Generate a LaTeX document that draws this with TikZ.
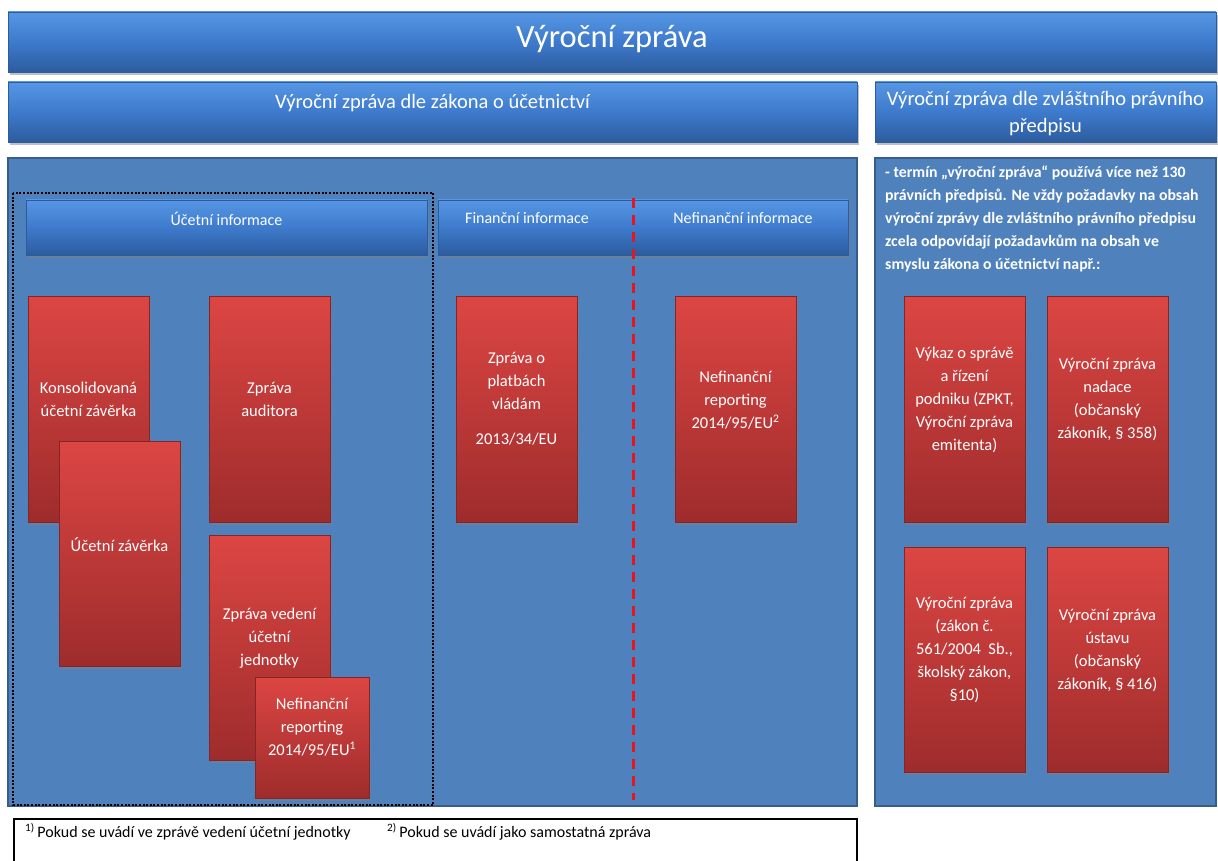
\documentclass[tikz,border=0pt]{standalone}
\usepackage{fontspec}
\setmainfont{Carlito}
\usetikzlibrary{shadows}

\definecolor{panelblue}{RGB}{79,129,189}
\definecolor{paneledge}{RGB}{56,93,138}
\definecolor{bartop}{RGB}{86,150,228}
\definecolor{barmid}{RGB}{62,122,204}
\definecolor{barbot}{RGB}{44,92,158}
\definecolor{redtop}{RGB}{220,70,67}
\definecolor{redbot}{RGB}{158,44,44}
\definecolor{dashred}{RGB}{232,20,30}

\tikzset{
    panel/.style = {draw = paneledge, line width = 2pt, fill = panelblue, inner sep = 0pt},
    bluebar/.style = {draw = barbot, line width = 0.8pt, top color = bartop, bottom color = barbot, middle color = barmid,
        drop shadow = {opacity = 0.5, shadow xshift = 1.5pt, shadow yshift = -3pt}, inner sep = 0pt},
    redbox/.style = {draw = redbot!85!black, line width = 0.6pt, top color = redtop, bottom color = redbot,
        drop shadow = {opacity = 0.5, shadow xshift = 1.5pt, shadow yshift = -3pt},
        minimum width = 121pt, minimum height = 226pt, inner sep = 0pt},
    bartext/.style = {text = white, font = \fontsize{20.5}{27}\selectfont, align = center, inner sep = 0pt},
    infotext/.style = {text = white, font = \fontsize{16}{18}\selectfont, inner sep = 0pt},
    boxtext/.style = {text = white, font = \fontsize{16.5}{23}\selectfont, align = center, inner sep = 0pt},
    notetext/.style = {font = \fontsize{16}{18}\selectfont, anchor = west, inner sep = 0pt}
}

\begin{document}
\begin{tikzpicture}[x = 1pt, y = -1pt]
    \useasboundingbox (0,0) rectangle (1218,861);
    %\draw [help lines, step = 50] (0,0) grid (1218,861);

    % headings
    \node[bluebar, minimum width = 1208pt, minimum height = 60pt] (title) at (612,42) {};
    \node[bartext, font = \fontsize{32.5}{38}\selectfont] (titletext) at ([yshift = 3pt]title.center) {Výroční zpráva};

    \node[bluebar, minimum width = 849pt, minimum height = 60pt] (zakon) at (432.5,112) {};
    \node[bartext] (zakontext) at ([yshift = 9pt]zakon.center) {Výroční zpráva dle zákona o účetnictví};

    \node[bluebar, minimum width = 341pt, minimum height = 60pt] (zvlast) at (1045.5,112) {};
    \node[bartext] (zvlasttext) at ([yshift = -2pt]zvlast.center) {Výroční zpráva dle zvláštního právního\\předpisu};

    % panels
    \node[panel, minimum width = 849pt, minimum height = 648pt] (leftpanel) at (432.5,482) {};
    \node[panel, minimum width = 341pt, minimum height = 648pt] (rightpanel) at (1045.5,482) {};

    \node[bluebar, minimum width = 401pt, minimum height = 55pt] (ucetni) at (226.5,227.5) {};
    \node[infotext] (ucetnitext) at ([yshift = 9pt]ucetni.center) {Účetní informace};
    \node[bluebar, minimum width = 410pt, minimum height = 55pt] (informace) at (643,227.5) {};
    \node[infotext] (fintext) at (527,218) {Finanční informace};
    \node[infotext] (nefintext) at (743,218) {Nefinanční informace};

    % red boxes
    \node[redbox] (konsol) at (88.5,409) {};
    \node[boxtext] (konsoltext) at ([yshift = 10pt]konsol.center) {Konsolidovaná\\účetní závěrka};
    \node[redbox, minimum height = 225pt] (zaverka) at (119.5,553.5) {};
    \node[boxtext] (zaverkatext) at ([yshift = 9pt]zaverka.center) {Účetní závěrka};

    \node[redbox] (auditor) at (269.5,409) {};
    \node[boxtext] (auditortext) at ([yshift = 10pt]auditor.center) {Zpráva\\auditora};
    \node[redbox, minimum height = 225pt] (vedeni) at (269.5,647.5) {};
    \node[boxtext] (vedenitext) at ([yshift = 9pt]vedeni.center) {Zpráva vedení\\účetní\\jednotky};
    \node[redbox, minimum width = 114pt, minimum height = 121pt] (nefinmala) at (312,737.5) {};
    \node[boxtext] (nefinmalatext) at ([yshift = 10pt]nefinmala.center) {Nefinanční\\reporting\\2014/95/EU\textsuperscript{1}};

    \node[redbox] (platby) at (516.5,409) {};
    \node[boxtext] (platbytext) at ([yshift = 10pt]platby.center) {Zpráva o\\platbách\\vládám\\[12pt]2013/34/EU};
    \node[redbox] (nefin) at (735.5,409) {};
    \node[boxtext] (nefintext2) at ([yshift = 9pt]nefin.center) {Nefinanční\\reporting\\2014/95/EU\textsuperscript{2}};

    \node[redbox] (vykaz) at (964.5,409) {};
    \node[boxtext] (vykaztext) at ([yshift = 9pt]vykaz.center) {Výkaz o správě\\a řízení\\podniku (ZPKT,\\Výroční zpráva\\emitenta)};
    \node[redbox] (nadace) at (1107.5,409) {};
    \node[boxtext] (nadacetext) at ([yshift = 9pt]nadace.center) {Výroční zpráva\\nadace\\(občanský\\zákoník, § 358)};
    \node[redbox, minimum height = 225pt] (skolsky) at (964.5,659.5) {};
    \node[boxtext] (skolskytext) at ([yshift = 9pt]skolsky.center) {Výroční zpráva\\(zákon č.\\561/2004~ Sb.,\\školský zákon,\\§10)};
    \node[redbox, minimum height = 225pt] (ustav) at (1107.5,659.5) {};
    \node[boxtext] (ustavtext) at ([yshift = 9pt]ustav.center) {Výroční zpráva\\ústavu\\(občanský\\zákoník, § 416)};

    % right panel text
    \node[text = white, font = \bfseries\fontsize{15.8}{23}\selectfont, align = left, anchor = north west, inner sep = 0pt] (pojem) at (885,166)
        {- termín „výroční zpráva“ používá více než 130\\právních předpisů. Ne vždy požadavky na obsah\\výroční zprávy dle zvláštního právního předpisu\\zcela odpovídají požadavkům na obsah ve\\smyslu zákona o účetnictví např.:};

    % dividers
    \coordinate (dashtop) at (633,198);
    \coordinate (dashbot) at (633,800);
    \draw[dashred, line width = 3pt, dash pattern = on 10pt off 7pt] (dashtop) -- (dashbot);
    \draw[line width = 2.5pt, dash pattern = on 2pt off 1.6pt] (13,193) rectangle (433,805);

    % footnotes
    \draw[line width = 2pt] (14,866) -- (14,819) -- (857,819) -- (857,866);
    \node[notetext] (pozn1) at (25,832) {\textsuperscript{1)}\,Pokud se uvádí ve zprávě vedení účetní jednotky};
    \node[notetext] (pozn2) at (387,832) {\textsuperscript{2)}\,Pokud se uvádí jako samostatná zpráva};
\end{tikzpicture}
\end{document}
